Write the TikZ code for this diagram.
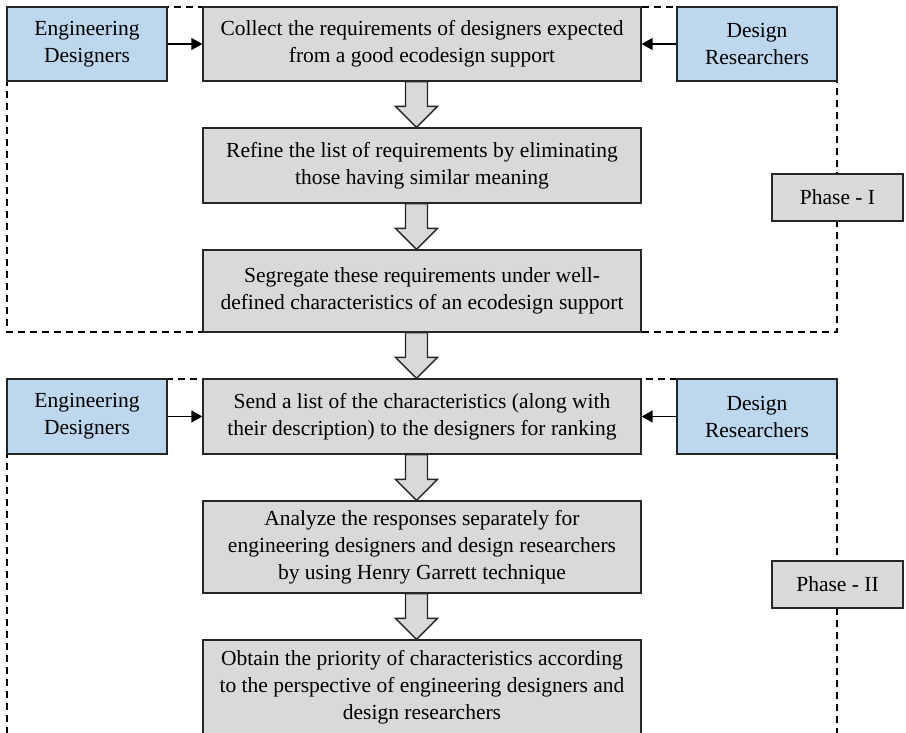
\documentclass[tikz,border=0pt]{standalone}
\usepackage{fontspec}
\setmainfont{Liberation Serif}
\usetikzlibrary{arrows.meta,calc}
\definecolor{boxblue}{HTML}{BDD7EE}
\definecolor{boxgray}{HTML}{D9D9D9}
\definecolor{edge}{HTML}{262626}
\tikzset{
  x=1pt,y=-1pt,
  base/.style={draw=edge,line width=1.3pt,rectangle,inner sep=0pt,align=center,
    font=\fontsize{21.5}{27}\selectfont},
  actor/.style={base,fill=boxblue,minimum width=160pt},
  stepbox/.style={base,fill=boxgray,minimum width=438pt},
  phasebox/.style={base,fill=boxgray,minimum width=131pt,minimum height=47pt},
  phaseframe/.style={draw=black,line width=1.4pt,dash pattern=on 7pt off 5pt},
  feed/.style={draw=black,line width=1.5pt,-{Triangle[length=11pt,width=12pt]}},
  blockarrow/.style={draw=edge,line width=1.3pt,fill=boxgray,line join=miter}
}
\newcommand{\blockarr}[2]{%
  \path[blockarrow] let \p1=(#1.south), \p2=(#2.north) in
    (\x1-5.5pt-11pt,\y1) -- (\x1-5.5pt-11pt,\y2+21pt) -- (\x1-5.5pt-21pt,\y2+21pt)
    -- (\x1-5.5pt,\y2) -- (\x1-5.5pt+21pt,\y2+21pt) -- (\x1-5.5pt+11pt,\y2+21pt)
    -- (\x1-5.5pt+11pt,\y1) -- cycle;}
\begin{document}
\begin{tikzpicture}
\useasboundingbox (0,0) rectangle (906,732);
\clip (0,0) rectangle (906,732);
% phase frames
\draw[phaseframe] (7,7) rectangle (837,332);
\draw[phaseframe] (7,379) rectangle (837,760);
% Phase I
\node[actor,minimum height=74pt] (ed1) at (87,44) {Engineering\\Designers};
\node[stepbox,minimum height=74pt] (c1) at (422,44) {Collect the requirements of designers expected\\from a good ecodesign support};
\node[actor,minimum height=74pt] (dr1) at (757,44) {Design\\Researchers};
\node[stepbox,minimum height=75pt] (c2) at (422,165.5) {Refine the list of requirements by eliminating\\those having similar meaning};
\node[stepbox,minimum height=82pt] (c3) at (422,291) {Segregate these requirements under well-\\defined characteristics of an ecodesign support};
\node[phasebox] (ph1) at (837.5,197.5) {Phase - I};
% Phase II
\node[actor,minimum height=75pt] (ed2) at (87,416.5) {Engineering\\Designers};
\node[stepbox,minimum height=75pt] (c4) at (422,416.5) {Send a list of the characteristics (along with\\their description) to the designers for ranking};
\node[actor,minimum height=75pt] (dr2) at (757,416.5) {Design\\Researchers};
\node[stepbox,minimum height=92pt] (c5) at (422,547) {Analyze the responses separately for\\engineering designers and design researchers\\by using Henry Garrett technique};
\node[stepbox,minimum height=95pt] (c6) at (422,687.5) {Obtain the priority of characteristics according\\to the perspective of engineering designers and\\design researchers};
\node[phasebox] (ph2) at (837.5,584.5) {Phase - II};
% feeds
\draw[feed] (ed1.east) -- (c1.west);
\draw[feed] (dr1.west) -- (c1.east);
\draw[feed] (ed2.east) -- (c4.west);
\draw[feed] (dr2.west) -- (c4.east);
% block arrows
\blockarr{c1}{c2}
\blockarr{c2}{c3}
\blockarr{c3}{c4}
\blockarr{c4}{c5}
\blockarr{c5}{c6}
\end{tikzpicture}
\end{document}
